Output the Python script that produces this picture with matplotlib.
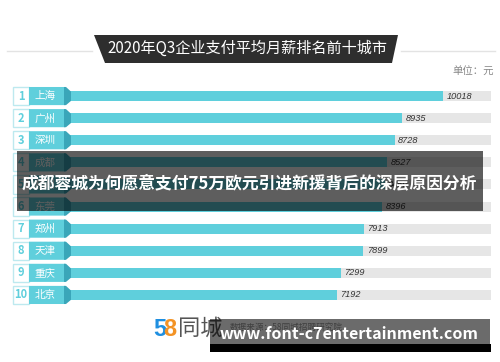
import matplotlib.pyplot as plt
import matplotlib.transforms as mtransforms
from matplotlib.patches import Polygon, Rectangle

plt.rcParams['font.family'] = ['Noto Sans CJK SC', 'DejaVu Sans']

cities = ['上海', '广州', '深圳', '成都', '杭州', '东莞', '郑州', '天津', '重庆', '北京']
ranks = [1, 2, 3, 4, 5, 6, 7, 8, 9, 10]
salary = [10018, 8935, 8728, 8527, 8460, 8396, 7913, 7899, 7299, 7192]
full_scale = 11283

title = '2020年Q3企业支付平均月薪排名前十城市'
unit = '单位：元'
banner = '成都蓉城为何愿意支付75万欧元引进新援背后的深层原因分析'
source = '数据来源：58同城招聘研究院'
watermark = 'www.font-c7entertainment.com'

cyan = '#5fcfdc'
dark_cyan = '#3aa6b9'

W, H = 500, 362
fig = plt.figure(figsize=(5, 3.62), dpi=100)
fig.patch.set_facecolor('white')

# bars axes (pixel layout: x 65..491, rows 85..306)
ax = fig.add_axes([65.4 / W, 1 - 306 / H, (491 - 65.4) / W, (306 - 85) / H])
ax.set_zorder(1)
n = len(cities)
ax.barh(range(n), [full_scale] * n, height=0.45, color='#e6e6e6')
ax.barh(range(n), salary, height=0.45, color=cyan)
for i, v in enumerate(salary):
    ax.annotate(str(v), (v, i), xytext=(2.5, 0), textcoords='offset points',
                va='center', ha='left', fontsize=6.6, style='italic',
                family='Liberation Sans', color='#333333')
ax.set_xlim(0, full_scale)
ax.set_ylim(n - 0.5, -0.5)
ax.axis('off')

# overlay in pixel coords
ov = fig.add_axes([0, 0, 1, 1])
ov.set_zorder(2)
ov.patch.set_alpha(0)
ov.set_xlim(0, W)
ov.set_ylim(H, 0)
ov.axis('off')

# title band
ov.plot([7, 92], [51, 51], color='#e3e3e3', lw=1)
ov.plot([401, 495], [51, 51], color='#e3e3e3', lw=1)
ov.add_patch(Polygon([(94, 35), (398, 35), (392, 63), (105, 63)], closed=True,
                     facecolor='#2e2e2e', edgecolor='none'))
ov.text(247, 48.5, title, color='white', fontsize=10.9, ha='center', va='center')
ov.text(494, 72, unit, color='#888888', fontsize=7.5, ha='right', va='center')

# rank boxes and city labels (x in pixels, y in bar rows)
tr = mtransforms.blended_transform_factory(ov.transData, ax.transData)
hh = 0.41
for i in range(n):
    ov.add_patch(Rectangle((13, i - hh), 16, 2 * hh, transform=tr, facecolor='white',
                           edgecolor='#bde9ef', lw=1, clip_on=False))
    ov.add_patch(Polygon([(29, i - hh), (65, i - hh), (71, i - 0.15), (71, i + 0.15),
                          (65, i + hh), (29, i + hh)], closed=True, transform=tr,
                         facecolor=cyan, edgecolor='none', clip_on=False))
    ov.add_patch(Polygon([(64, i - hh), (66, i - hh), (71, i - 0.2), (71, i + 0.22),
                          (66, i + hh), (64, i + hh)], closed=True, transform=tr,
                         facecolor=dark_cyan, edgecolor='none', clip_on=False))
    ov.text(21, i, str(ranks[i]), transform=tr, color=cyan, fontsize=8,
            fontweight='bold', ha='center', va='center')
    ov.text(45, i, cities[i], transform=tr, color='white', fontsize=7.6,
            ha='center', va='center')

# banner overlay
ov.add_patch(Rectangle((17, 151), 466, 60, facecolor='black', alpha=0.63,
                       edgecolor='none', zorder=10))
ov.text(249, 183, banner, color='white', fontsize=12.1, fontweight='bold',
        ha='center', va='center', zorder=11)

# footer: logo + source
ov.text(153, 329, '5', color='#1f8fe0', fontsize=17, fontweight='bold',
        ha='left', va='center', family='Liberation Sans')
ov.text(163, 329, '8', color='#f39325', fontsize=17, fontweight='bold',
        ha='left', va='center', family='Liberation Sans')
ov.text(178, 328, '同城', color='#555555', fontsize=16, ha='left', va='center')
ov.text(230, 327, source, color='#999999', fontsize=6.2, ha='left', va='center')

# watermark box
ov.add_patch(Rectangle((210, 319), 280, 25, facecolor='black', alpha=0.58,
                       edgecolor='none', zorder=10))
ov.add_patch(Rectangle((210, 344), 281, 8, facecolor='black', edgecolor='none', zorder=10))
ov.text(349, 334, watermark, color='white', fontsize=11.5, fontweight='bold',
        ha='center', va='center', zorder=11)

fig.savefig('out.png', dpi=100)
